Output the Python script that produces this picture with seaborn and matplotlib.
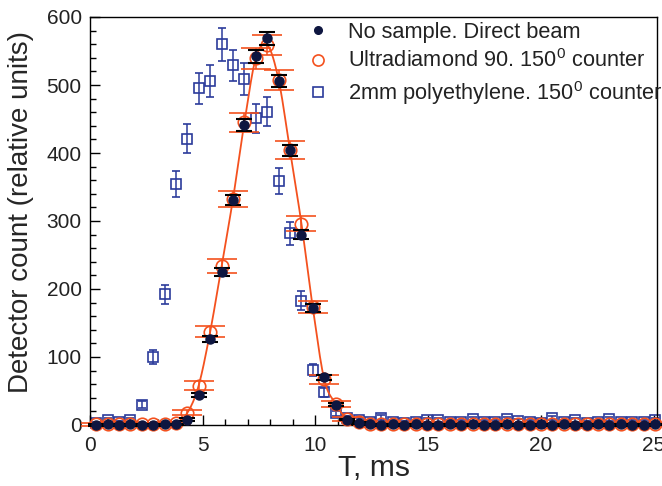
import numpy as np
import matplotlib
matplotlib.use("Agg")
import matplotlib.pyplot as plt
from matplotlib.lines import Line2D
from matplotlib.ticker import MultipleLocator
import pandas as pd
import seaborn as sns

# time channels (ms)
t_ms = [0.27, 0.78, 1.28, 1.79, 2.29, 2.80, 3.31, 3.81, 4.32, 4.82,
        5.33, 5.84, 6.34, 6.85, 7.35, 7.86, 8.37, 8.87, 9.38, 9.88,
        10.39, 10.90, 11.40, 11.91, 12.41, 12.92, 13.43, 13.93, 14.44, 14.94,
        15.45, 15.96, 16.46, 16.97, 17.47, 17.98, 18.49, 18.99, 19.50, 20.00,
        20.51, 21.02, 21.52, 22.03, 22.53, 23.04, 23.55, 24.05, 24.56, 25.06]

# No sample, direct beam
direct_beam = [0, 1, 0, 1, 0, 0, 1, 1, 8, 44,
               127, 225, 331, 441, 542, 569, 506, 404, 280, 172,
               70, 30, 8, 3, 1, 0, 1, 0, 1, 0,
               0, 1, 0, 1, 0, 0, 1, 0, 0, 1,
               0, 1, 0, 0, 1, 0, 1, 0, 0, 1]
direct_err = [1, 1, 1, 1, 1, 1, 1, 1, 2, 3,
              4.5, 6, 7.3, 8.4, 9.3, 9.5, 9, 8, 6.7, 5.3,
              3.4, 2.2, 1.2, 1, 1, 1, 1, 1, 1, 1,
              1, 1, 1, 1, 1, 1, 1, 1, 1, 1,
              1, 1, 1, 1, 1, 1, 1, 1, 1, 1]

# Ultradiamond 90, 150 deg counter
diamond = [1, 2, 1, 2, 1, 1, 2, 3, 18, 58,
           137, 234, 332, 445, 539, 559, 507, 404, 296, 173,
           67, 31, 9, 4, 2, 1, 2, 1, 1, 2,
           1, 1, 2, 1, 1, 2, 1, 1, 2, 1,
           1, 1, 2, 1, 2, 1, 1, 2, 1, 1]
diamond_err = [2, 2, 2, 2, 2, 2, 2, 2, 4, 6,
               8, 10, 12, 14, 15, 15, 15, 13, 11, 9,
               6, 4, 3, 2, 2, 2, 2, 2, 2, 2,
               2, 2, 2, 2, 2, 2, 2, 2, 2, 2,
               2, 2, 2, 2, 2, 2, 2, 2, 2, 2]

# 2mm polyethylene, 150 deg counter
poly = [3, 8, 4, 7, 30, 100, 192, 355, 421, 495,
        506, 560, 529, 509, 451, 461, 359, 282, 183, 81,
        48, 17, 10, 7, 5, 11, 4, 3, 4, 7,
        7, 5, 5, 9, 5, 5, 9, 6, 4, 3,
        10, 5, 8, 3, 5, 9, 5, 4, 4, 7]
poly_err = [2, 3, 2, 3, 5, 10, 14, 19, 21, 23,
            23, 24, 23, 23, 21, 22, 19, 17, 14, 9,
            7, 4, 3, 3, 3, 3, 3, 3, 3, 3,
            3, 3, 3, 3, 3, 3, 3, 3, 3, 3,
            3, 3, 3, 3, 3, 3, 3, 3, 3, 3]

labels = ["No sample. Direct beam",
          "Ultradiamond 90. 150$^0$ counter",
          "2mm polyethylene. 150$^0$ counter"]

c_black = "#0e1640"
c_orange = "#f4511e"
c_blue = "#2b3b9b"


def catmull_rom(x, y, n=16):
    x = np.asarray(x, float)
    y = np.asarray(y, float)
    px = np.concatenate([[2 * x[0] - x[1]], x, [2 * x[-1] - x[-2]]])
    py = np.concatenate([[2 * y[0] - y[1]], y, [2 * y[-1] - y[-2]]])
    s = np.linspace(0, 1, n, endpoint=False)
    xs, ys = [], []
    for i in range(1, len(px) - 2):
        for p, out in ((px, xs), (py, ys)):
            p0, p1, p2, p3 = p[i - 1], p[i], p[i + 1], p[i + 2]
            out.extend(0.5 * (2 * p1 + (-p0 + p2) * s
                              + (2 * p0 - 5 * p1 + 4 * p2 - p3) * s ** 2
                              + (-p0 + 3 * p1 - 3 * p2 + p3) * s ** 3))
    xs.append(x[-1])
    ys.append(y[-1])
    return np.array(xs), np.array(ys)


sns.set_theme(style="ticks")
plt.rcParams['font.family'] = ['Liberation Sans', 'DejaVu Sans']
plt.rcParams['mathtext.fontset'] = 'custom'
plt.rcParams['mathtext.rm'] = 'Liberation Sans'
plt.rcParams['mathtext.it'] = 'Liberation Sans'
plt.rcParams['text.color'] = '#222222'

fig = plt.figure(figsize=(6.62, 4.86), dpi=100)
ax = fig.add_axes([90 / 662, 1 - 425 / 486, 567 / 662, 408 / 486])

# polyethylene
ax.errorbar(t_ms, poly, yerr=poly_err, fmt='s', ms=7.2, mfc='none', mec=c_blue,
            mew=1.2, ecolor=c_blue, elinewidth=1.1, capsize=2.8, capthick=1.1,
            clip_on=False, zorder=2)

# smooth line through the diamond points
sx, sy = catmull_rom(t_ms, diamond)
curve = pd.DataFrame({"t": sx, "count": sy})
sns.lineplot(data=curve, x="t", y="count", color=c_orange, lw=1.3, ax=ax,
             sort=False, zorder=3, clip_on=False)

ax.errorbar(t_ms, diamond, yerr=diamond_err, fmt='o', ms=9, mfc='none', mec=c_orange,
            mew=1.2, ecolor=c_orange, elinewidth=1.1, capsize=10.5, capthick=1.3,
            clip_on=False, zorder=4)

# direct beam
ax.errorbar(t_ms, direct_beam, yerr=direct_err, fmt='o', ms=6.5, mfc=c_black, mec=c_black,
            ecolor='black', elinewidth=1.1, capsize=5.5, capthick=1.5,
            clip_on=False, zorder=5)

ax.set_xlim(0, 25.15)
ax.set_ylim(0, 600)
ax.xaxis.set_major_locator(MultipleLocator(5))
ax.xaxis.set_minor_locator(MultipleLocator(1))
ax.yaxis.set_major_locator(MultipleLocator(100))
ax.yaxis.set_minor_locator(MultipleLocator(20))
ax.tick_params(which='both', direction='in', top=False, right=False,
               labelsize=15, color='black', labelcolor='#222222', width=1)
ax.tick_params(which='major', length=7)
ax.tick_params(which='minor', length=4)
ax.tick_params(axis='x', pad=8)
ax.tick_params(axis='y', pad=6)
for sp in ax.spines.values():
    sp.set_visible(True)
    sp.set_color('black')
    sp.set_linewidth(1)

ax.set_xlabel("T, ms", fontsize=21.6)
ax.xaxis.set_label_coords(0.5, -0.07)
ax.set_ylabel("Detector count (relative units)", fontsize=20)
ax.yaxis.set_label_coords(-0.099, 0.522)

handles = [
    Line2D([], [], ls='none', marker='o', ms=5.5, mfc=c_black, mec=c_black),
    Line2D([], [], ls='none', marker='o', ms=8, mfc='none', mec=c_orange, mew=1.2),
    Line2D([], [], ls='none', marker='s', ms=6.5, mfc='none', mec=c_blue, mew=1.2),
]
leg = fig.legend(handles, labels, loc='upper left', fontsize=15.7, frameon=False,
                 bbox_to_anchor=(307 / 662, 1 - 22 / 486), borderaxespad=0,
                 labelspacing=0.3, handlelength=1.0, handletextpad=0.876, borderpad=0)
leg.set_zorder(1)

fig.savefig("out.png", dpi=100)
